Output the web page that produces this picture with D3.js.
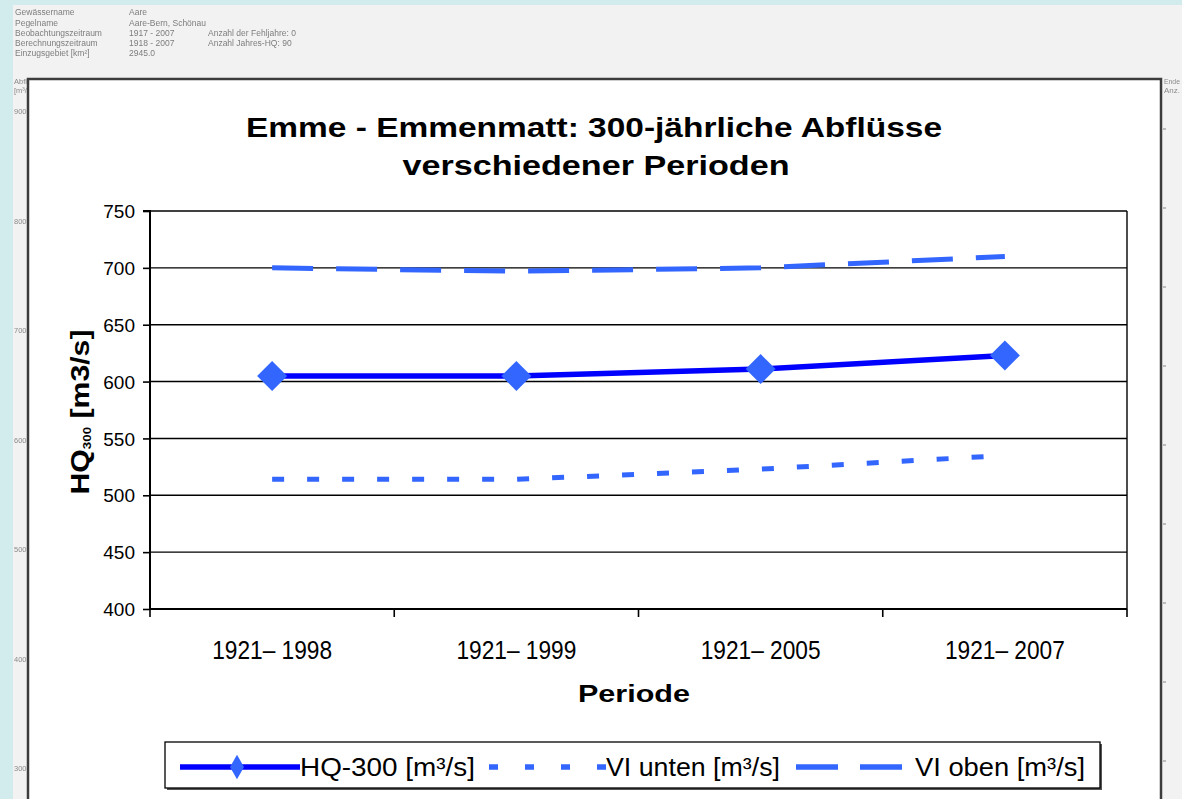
<!DOCTYPE html>
<html><head><meta charset="utf-8">
<script src="https://cdn.jsdelivr.net/npm/d3@7"></script>
<style>
html,body{margin:0;padding:0;background:#d2ecee;}
svg{display:block;}
</style></head>
<body>
<svg id="c" width="1182" height="799"></svg>
<script>
// ---- data ----
const categories = ["1921– 1998", "1921– 1999", "1921– 2005", "1921– 2007"];
const hq300 = [605, 605, 611, 623];
const viUnten = [514, 514, 523, 535];
const viOben = [700, 697, 700, 710];
const yTicks = [400, 450, 500, 550, 600, 650, 700, 750];
const seriesNames = ["HQ-300 [m³/s]", "VI unten [m³/s]", "VI oben [m³/s]"];
const titleLines = ["Emme - Emmenmatt: 300-jährliche Abflüsse", "verschiedener Perioden"];
const headerLabels = ["Gewässername", "Pegelname", "Beobachtungszeitraum", "Berechnungszeitraum", "Einzugsgebiet [km²]"];
const headerValues = ["Aare", "Aare-Bern, Schönau", "1917 - 2007", "1918 - 2007", "2945.0"];
const headerExtra = ["", "", "Anzahl der Fehljahre:  0", "Anzahl Jahres-HQ:  90", ""];
const bgTickLabels = ["900", "800", "700", "600", "500", "400", "300"];

const svg = d3.select("#c");
const W = 1182, H = 799;
const font = "'Liberation Sans', Arial, sans-serif";

// page background
svg.append("rect").attr("x", 13).attr("y", 5).attr("width", W - 13).attr("height", H - 5).attr("fill", "#f2f2f2");

// blur filter for background text
const defs = svg.append("defs");
defs.append("filter").attr("id", "blur").append("feGaussianBlur").attr("stdDeviation", 0.5);
defs.append("clipPath").attr("id", "leftclip").append("rect").attr("x", 13).attr("y", 70).attr("width", 14).attr("height", 740);

// header text
const hdr = svg.append("g").attr("font-family", font).attr("font-size", 8.5).attr("fill", "#7d7d7d").attr("filter", "url(#blur)");
const rowY = [15, 26, 36, 46, 56];
headerLabels.forEach((t, i) => {
  hdr.append("text").attr("x", 15).attr("y", rowY[i]).text(t);
  hdr.append("text").attr("x", 129).attr("y", rowY[i]).text(headerValues[i]);
  if (headerExtra[i]) hdr.append("text").attr("x", 208).attr("y", rowY[i]).text(headerExtra[i]);
});

// background chart remnants (left margin)
const bgL = svg.append("g").attr("clip-path", "url(#leftclip)").attr("font-family", font).attr("font-size", 7.5).attr("fill", "#8a8a8a").attr("filter", "url(#blur)");
bgL.append("text").attr("x", 14).attr("y", 84).text("Abfluss");
bgL.append("text").attr("x", 14).attr("y", 93).text("[m³/s]");
const bgY = d3.scaleLinear().domain([900, 300]).range([111, 768]);
bgTickLabels.forEach(t => {
  bgL.append("text").attr("x", 14).attr("y", bgY(+t) + 3).text(t);
});
// right margin remnants
const bgR = svg.append("g").attr("font-family", font).attr("font-size", 7).attr("fill", "#8a8a8a").attr("filter", "url(#blur)");
bgR.append("text").attr("x", 1164).attr("y", 84).attr("textLength", 16).attr("lengthAdjust", "spacingAndGlyphs").text("Ende");
bgR.append("text").attr("x", 1164).attr("y", 93).attr("textLength", 16).attr("lengthAdjust", "spacingAndGlyphs").text("Anz.");
const bgRY = d3.scaleLinear().domain([0, 1]).range([129, 208]);
d3.range(9).forEach(i => {
  bgR.append("line").attr("x1", 1163).attr("x2", 1166).attr("y1", bgRY(i)).attr("y2", bgRY(i)).attr("stroke", "#aaa").attr("stroke-width", 1.5);
});

// chart frame
svg.append("rect").attr("x", 28).attr("y", 79).attr("width", 1133).attr("height", 760)
  .attr("fill", "#ffffff").attr("stroke", "#3c3c3c").attr("stroke-width", 2.5);

// scales
const x = d3.scaleBand().domain(categories).range([150, 1127]);
const y = d3.scaleLinear().domain([400, 750]).range([609, 211]);
const cx = d => x(d) + x.bandwidth() / 2;

// gridlines
const g = svg.append("g");
g.selectAll("line.grid").data(yTicks).enter().append("line")
  .attr("x1", 150).attr("x2", 1127).attr("y1", d => y(d)).attr("y2", d => y(d))
  .attr("stroke", "#000").attr("stroke-width", 1.4);
// right plot border
g.append("line").attr("x1", 1127).attr("x2", 1127).attr("y1", y(750)).attr("y2", y(400)).attr("stroke", "#000").attr("stroke-width", 1.4);

// y axis
const yAxis = d3.axisLeft(y).tickValues(yTicks).tickSize(7).tickPadding(8).tickFormat(d3.format("d"));
const ya = svg.append("g").attr("transform", "translate(150,0)").call(yAxis);
ya.select(".domain").attr("stroke", "#000").attr("stroke-width", 2).attr("d", `M-7,${y(750)}H0V${y(400)}`);
ya.selectAll(".tick line").attr("stroke", "#000").attr("stroke-width", 1.6);
ya.selectAll(".tick text").attr("font-family", font).attr("font-size", 19).attr("fill", "#000").attr("dy", "0.35em");

// x axis
const xAxis = d3.axisBottom(x).tickSize(0).tickPadding(0);
const xa = svg.append("g").attr("transform", `translate(0,${y(400)})`).call(xAxis);
xa.select(".domain").attr("stroke", "#000").attr("stroke-width", 2).attr("d", `M150,0H1127`);
xa.selectAll(".tick text").attr("font-family", font).attr("font-size", 25).attr("fill", "#000")
  .attr("y", 50).attr("dy", 0).attr("textLength", 120).attr("lengthAdjust", "spacingAndGlyphs");
// boundary ticks
const bounds = categories.map(c => x(c)).concat([x(categories[categories.length - 1]) + x.bandwidth()]);
xa.selectAll("line.bt").data(bounds).enter().append("line")
  .attr("x1", d => d).attr("x2", d => d).attr("y1", 0).attr("y2", 8).attr("stroke", "#000").attr("stroke-width", 1.6);

// axis titles
svg.append("text").attr("x", 634).attr("y", 702).attr("text-anchor", "middle")
  .attr("font-family", font).attr("font-weight", "bold").attr("font-size", 24).attr("fill", "#000")
  .attr("textLength", 112).attr("lengthAdjust", "spacingAndGlyphs").text("Periode");
const yt = svg.append("text").attr("transform", "translate(89,412) rotate(-90)").attr("text-anchor", "middle")
  .attr("font-family", font).attr("font-weight", "bold").attr("font-size", 25).attr("fill", "#000")
  .attr("textLength", 165).attr("lengthAdjust", "spacingAndGlyphs");
yt.append("tspan").text("HQ");
yt.append("tspan").attr("font-size", 11).attr("dy", 2).text("300");
yt.append("tspan").attr("dy", -2).text(" [m3/s]");

// title
svg.append("text").attr("x", 594).attr("y", 137).attr("text-anchor", "middle")
  .attr("font-family", font).attr("font-weight", "bold").attr("font-size", 28).attr("fill", "#000")
  .attr("textLength", 696).attr("lengthAdjust", "spacingAndGlyphs").text(titleLines[0]);
svg.append("text").attr("x", 596).attr("y", 175).attr("text-anchor", "middle")
  .attr("font-family", font).attr("font-weight", "bold").attr("font-size", 28).attr("fill", "#000")
  .attr("textLength", 387).attr("lengthAdjust", "spacingAndGlyphs").text(titleLines[1]);

// series lines
const line = d3.line().x((d, i) => cx(categories[i])).y(d => y(d));
const lightBlue = "#3366ff", blue = "#0000ff";
svg.append("path").datum(viOben).attr("d", line).attr("fill", "none").attr("stroke", lightBlue)
  .attr("stroke-width", 5).attr("stroke-dasharray", "41,23");
svg.append("path").datum(viUnten).attr("d", line).attr("fill", "none").attr("stroke", lightBlue)
  .attr("stroke-width", 5).attr("stroke-dasharray", "12,23");
svg.append("path").datum(hq300).attr("d", line).attr("fill", "none").attr("stroke", blue)
  .attr("stroke-width", 5.5);
const sq = d3.symbol().type(d3.symbolSquare).size(450);
svg.selectAll("path.mk").data(hq300).enter().append("path")
  .attr("transform", (d, i) => `translate(${cx(categories[i])},${y(d)}) rotate(45)`)
  .attr("d", sq).attr("fill", lightBlue);

// legend
const lg = svg.append("g");
lg.append("rect").attr("x", 167).attr("y", 744).attr("width", 935).attr("height", 46).attr("fill", "#555");
lg.append("rect").attr("x", 165).attr("y", 742).attr("width", 935).attr("height", 46).attr("fill", "#fff").attr("stroke", "#000").attr("stroke-width", 1.3);
const ly = 767;
const legendItems = [
  { sx: 180, ex: 300, tx: 300, tw: 175, color: blue, dash: null, marker: true },
  { sx: 489, ex: 606, tx: 606, tw: 174, color: lightBlue, dash: "9,27", marker: false },
  { sx: 796, ex: 903, tx: 915, tw: 170, color: lightBlue, dash: "42,22", marker: false }
];
legendItems.forEach((it, i) => {
  const l = lg.append("line").attr("x1", it.sx).attr("x2", it.ex).attr("y1", ly).attr("y2", ly)
    .attr("stroke", it.color).attr("stroke-width", 5.5);
  if (it.dash) l.attr("stroke-dasharray", it.dash);
  if (it.marker) lg.append("path").attr("transform", `translate(${(it.sx + it.ex) / 2 - 3},${ly})`)
    .attr("d", d3.symbol().type(d3.symbolDiamond).size(170)).attr("fill", lightBlue);
  lg.append("text").attr("x", it.tx).attr("y", ly + 9).attr("font-family", font).attr("font-size", 25)
    .attr("fill", "#000").attr("textLength", it.tw).attr("lengthAdjust", "spacingAndGlyphs").text(seriesNames[i]);
});
</script>
</body></html>
